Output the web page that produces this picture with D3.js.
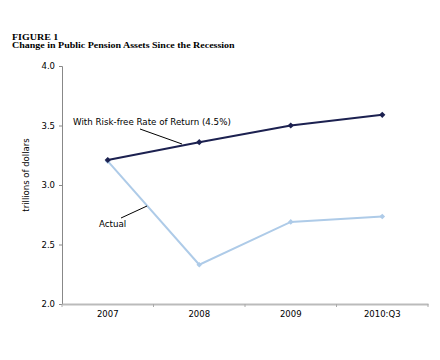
<!DOCTYPE html>
<html><head><meta charset="utf-8">
<script src="https://cdn.jsdelivr.net/npm/d3@7"></script>
<style>body{margin:0;background:#fff}</style>
</head><body>
<svg id="c" width="440" height="360"></svg>
<script>
const categories = ["2007","2008","2009","2010:Q3"];
const riskFree = [3.21, 3.36, 3.50, 3.59];
const actual = [3.20, 2.33, 2.69, 2.735];
const yTicks = [2.0, 2.5, 3.0, 3.5, 4.0];

(function(){
const svg = d3.select("#c");
const mLeft = 62, mRight = 428, mTop = 66, mBottom = 304;
const sans = "'DejaVu Sans', Verdana, sans-serif";
const serif = "'Liberation Serif', 'Times New Roman', serif";
const x = d3.scaleBand().domain(categories).range([mLeft, mRight]);
const y = d3.scaleLinear().domain([2, 4]).range([mBottom, mTop]);
const cx = c => x(c) + x.bandwidth()/2;

svg.append("text").attr("transform","translate(12,39.5) scale(1.11,1)").attr("font-family",serif)
  .attr("font-weight","bold").attr("font-size",9).text("FIGURE 1");
svg.append("text").attr("transform","translate(12,47.5) scale(1.11,1)").attr("font-family",serif)
  .attr("font-weight","bold").attr("font-size",9).text("Change in Public Pension Assets Since the Recession");

const ya = svg.append("g").attr("transform",`translate(${mLeft},0)`)
  .call(d3.axisLeft(y).tickValues(yTicks).tickFormat(d3.format(".1f")).tickSize(3));
ya.select(".domain").attr("stroke","#888");
ya.selectAll(".tick line").attr("stroke","#888");
ya.selectAll("text").attr("font-family",sans).attr("font-size",8.5).attr("fill","#000").attr("dx","-1");

const xa = svg.append("g").attr("transform",`translate(0,${mBottom})`)
  .call(d3.axisBottom(x).tickSize(0).tickPadding(7));
xa.select(".domain").attr("stroke","#bbb").attr("stroke-width",2);
xa.selectAll("text").attr("font-family",sans).attr("font-size",8.5).attr("fill","#000");
const bounds = categories.map(c => x(c)).concat([mRight]);
svg.append("g").selectAll("line").data(bounds).join("line")
  .attr("x1",d=>d).attr("x2",d=>d).attr("y1",mBottom).attr("y2",mBottom+3).attr("stroke","#aaa");

svg.append("text").attr("transform","translate(29,175) rotate(-90)").attr("text-anchor","middle")
  .attr("font-family",sans).attr("font-size",8.5).text("trillions of dollars");

const line = d3.line().x((d,i)=>cx(categories[i])).y(d=>y(d));
svg.append("path").datum(actual).attr("d",line).attr("fill","none").attr("stroke","#aecbe8").attr("stroke-width",2);
svg.append("g").selectAll("rect").data(actual).join("rect")
  .attr("x",(d,i)=>cx(categories[i])-2).attr("y",d=>y(d)-2).attr("width",4).attr("height",4)
  .attr("fill","#aecbe8").attr("transform",(d,i)=>`rotate(45,${cx(categories[i])},${y(d)})`);

svg.append("path").datum(riskFree).attr("d",line).attr("fill","none").attr("stroke","#1c2150").attr("stroke-width",2);
svg.append("g").selectAll("rect").data(riskFree).join("rect")
  .attr("x",(d,i)=>cx(categories[i])-2.2).attr("y",d=>y(d)-2.2).attr("width",4.4).attr("height",4.4)
  .attr("fill","#1c2150").attr("transform",(d,i)=>`rotate(45,${cx(categories[i])},${y(d)})`);

svg.append("text").attr("x",73).attr("y",125).attr("font-family",sans).attr("font-size",8.7)
  .text("With Risk-free Rate of Return (4.5%)");
svg.append("line").attr("x1",140).attr("y1",129).attr("x2",182).attr("y2",144).attr("stroke","#000").attr("stroke-width",1);
svg.append("text").attr("x",99).attr("y",227).attr("font-family",sans).attr("font-size",8.7)
  .text("Actual");
svg.append("line").attr("x1",121).attr("y1",218).attr("x2",147).attr("y2",206).attr("stroke","#000").attr("stroke-width",1);
})();
</script>
</body></html>
